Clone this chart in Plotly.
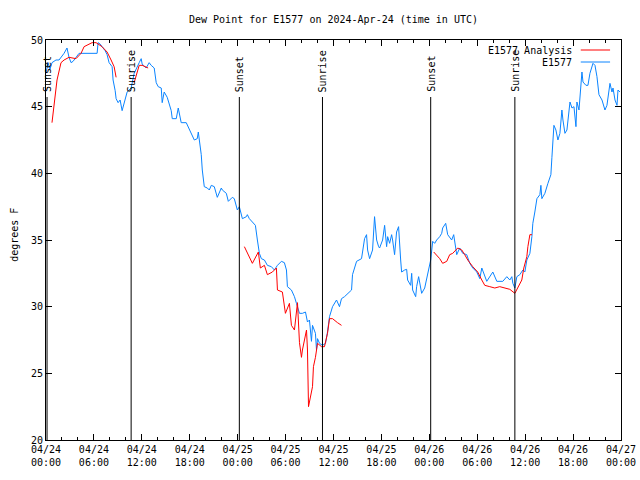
import pandas as pd
import plotly.graph_objects as go

START = pd.Timestamp("2024-04-24 00:00")

# E1577 observations: hours since 2024-04-24 00:00 UTC, dew point (F)
blue_hours = [0.0, 0.25, 0.5, 0.75, 1.25, 1.63, 2.26, 2.63, 2.88, 3.14, 3.39, 3.76, 4.14, 6.40, 6.52, 6.77,
              7.02, 7.40, 7.65, 7.90, 8.28, 8.40, 8.66, 8.78, 9.03, 9.28, 9.53, 9.91, 10.16, 10.66, 11.04,
              11.67, 11.92, 12.04, 12.54, 12.92, 13.17, 13.55, 13.80, 14.05, 14.43, 14.55, 14.80, 15.18,
              15.68, 15.81, 16.31, 16.56, 16.93, 17.56, 18.19, 18.57, 18.94, 19.07, 19.20, 19.44, 19.57,
              19.82, 20.20, 20.45, 20.70, 21.07, 21.45, 21.95, 22.08, 22.58, 22.83, 23.33, 23.58, 23.83,
              23.96, 24.21, 24.46, 24.59, 25.09, 25.21, 25.46, 25.84, 26.22, 26.47, 26.72, 26.97, 27.35,
              27.72, 28.22, 28.60, 28.98, 29.48, 29.85, 30.11, 30.23, 30.73, 31.11, 31.36, 31.49, 31.74,
              32.11, 32.49, 32.74, 32.99, 33.24, 33.37, 33.74, 33.87, 34.00, 34.25, 34.62, 35.00, 35.25,
              35.50, 35.88, 36.38, 36.75, 37.00, 37.38, 37.76, 38.26, 38.38, 38.89, 39.51, 39.89, 40.14,
              40.27, 40.52, 40.89, 41.14, 41.40, 41.65, 41.77, 42.15, 42.40, 42.65, 42.78, 43.03, 43.28,
              43.40, 43.65, 43.90, 44.15, 44.41, 44.53, 44.91, 45.16, 45.28, 45.66, 45.79, 45.91, 46.29,
              46.41, 46.66, 47.04, 47.42, 47.79, 48.17, 48.42, 48.67, 48.92, 49.30, 49.55, 49.67, 50.05,
              50.30, 50.80, 51.05, 51.43, 51.81, 52.18, 52.68, 53.06, 53.44, 53.94, 54.32, 54.57, 54.94,
              55.19, 55.95, 56.45, 57.20, 57.70, 58.08, 58.33, 58.46, 58.71, 58.96, 59.33, 59.71, 59.96,
              60.21, 60.59, 60.84, 60.96, 61.21, 61.47, 61.84, 61.97, 62.09, 62.47, 62.85, 63.22, 63.35,
              63.47, 63.60, 63.85, 64.10, 64.35, 64.60, 64.73, 64.98, 65.23, 65.35, 65.61, 65.86, 66.11,
              66.36, 66.48, 66.74, 67.11, 67.24, 67.61, 67.86, 68.11, 68.49, 68.74, 68.99, 69.24, 69.62,
              69.99, 70.24, 70.62, 70.87, 71.00, 71.25, 71.50, 71.62, 71.87]
blue_vals = [47.5, 48.3, 47.8, 48.3, 48.5, 48.5, 49.0, 49.4, 48.7, 48.3, 48.4, 48.7, 49.0, 49.0, 49.8, 49.7,
             49.5, 49.2, 48.9, 48.3, 48.0, 47.0, 46.2, 45.6, 45.3, 45.5, 44.7, 45.5, 46.1, 46.4, 47.5,
             48.3, 48.6, 48.2, 47.9, 48.3, 48.1, 47.9, 46.8, 46.5, 46.4, 45.3, 46.1, 45.7,
             44.7, 44.1, 44.1, 44.9, 43.8, 43.8, 43.0, 42.5, 42.6, 43.1, 42.5, 41.4, 40.25,
             39.0, 38.9, 38.75, 39.1, 39.0, 38.2, 38.9, 38.75, 38.5, 37.9, 38.2, 38.1, 37.5,
             37.25, 37.5, 37.0, 36.6, 36.75, 36.9, 36.6, 36.35, 36.1, 35.0, 34.0, 33.6, 33.5,
             33.1, 33.0, 32.75, 33.1, 33.4, 33.3, 32.75, 31.5, 31.25, 30.75, 30.25, 30.0, 29.5,
             29.5, 29.6, 28.85, 29.0, 27.4, 28.6, 28.0, 26.75, 27.6, 27.25, 27.1, 27.25, 28.1,
             29.25, 30.0, 30.5, 30.0, 30.6, 30.75, 31.0, 31.25, 32.4, 33.4, 33.6, 35.1, 35.4,
             34.25, 33.6, 34.25, 36.75, 35.0, 34.5, 34.4, 35.0, 36.1, 34.5, 35.25, 34.75, 35.4,
             35.0, 33.9, 35.6, 36.0, 33.5, 32.6, 32.75, 32.8, 32.0, 31.6, 32.5, 31.25, 30.75,
             31.5, 32.25, 31.0, 31.4, 32.5, 33.5, 34.9, 34.75, 35.0, 35.25, 35.5, 35.9, 36.25,
             35.4, 35.0, 35.4, 33.9, 34.4, 34.0, 33.9, 33.25, 32.9, 32.6, 32.1, 32.9, 32.25,
             31.9, 32.6, 31.9, 31.9, 32.25, 32.0, 32.25, 31.75, 31.4, 32.25, 32.4, 32.75, 32.6,
             33.5, 34.0, 35.25, 36.25, 37.1, 38.1, 38.4, 39.1, 38.1, 38.5, 39.25, 39.9, 41.2,
             43.0, 43.6, 43.25, 42.5, 43.0, 44.75, 44.0, 43.0, 43.25, 44.1, 45.35, 44.9, 45.0,
             43.5, 45.35, 44.75, 47.6, 46.85, 46.6, 46.6, 47.5, 48.25, 48.1, 47.25, 45.9, 45.5,
             44.75, 45.1, 46.75, 46.1, 46.4, 45.5, 45.1, 46.25, 46.1]

# E1577 Analysis segments
red_hours_a = [0.75, 1.13, 1.38, 1.88, 2.26, 2.88, 3.76, 4.39, 4.77, 5.77, 6.27, 7.02, 7.65, 8.15, 8.53, 8.78]
red_vals_a = [43.8, 45.5, 47.0, 48.3, 48.5, 48.7, 48.6, 49.0, 49.5, 49.8, 49.8, 49.5, 49.1, 48.5, 48.0, 47.2]
red_hours_a2 = [11.04, 11.67, 12.04, 12.54, 12.79]
red_vals_a2 = [46.8, 48.1, 48.1, 48.0, 47.9]
red_hours_b = [24.84, 25.84, 26.59, 26.84, 27.35, 27.72, 28.35, 28.85, 28.98, 29.60, 29.98, 30.48, 30.73,
               31.11, 31.49, 31.74, 31.99, 32.11, 32.62, 32.74, 32.87, 33.12, 33.37, 33.49, 33.74, 34.00,
               34.50, 34.87, 35.25, 35.50, 35.88, 36.50, 37.00]
red_vals_b = [34.5, 33.25, 34.1, 32.9, 33.1, 32.4, 32.6, 32.9, 31.25, 31.1, 29.5, 30.25, 28.6,
              28.25, 30.3, 27.3, 26.2, 26.75, 28.25, 26.75, 22.5, 23.4, 24.0, 25.5, 26.2, 27.25,
              27.0, 27.0, 28.0, 29.1, 29.1, 28.8, 28.6]
red_hours_c = [48.55, 49.30, 49.67, 50.18, 50.55, 50.93, 51.56, 52.06, 52.43, 52.81, 53.44, 54.06, 54.57,
               54.94, 55.57, 56.20, 56.82, 57.45, 58.08, 58.71, 59.08, 59.58, 59.83, 60.21, 60.34, 60.59, 60.84]
red_vals_c = [34.1, 33.6, 33.25, 33.4, 33.9, 34.0, 34.4, 34.25, 33.9, 33.5, 33.0, 32.6, 32.0,
              31.6, 31.5, 31.4, 31.5, 31.4, 31.3, 31.0, 31.4, 32.0, 32.9, 33.75, 34.5, 35.4, 35.4]

sun_hours = [0.13, 10.66, 24.21, 34.62, 48.17, 58.71]
sun_labels = ["Sunset", "Sunrise", "Sunset", "Sunrise", "Sunset", "Sunrise"]

tick_hours = list(range(0, 73, 6))
y_ticks = [20, 25, 30, 35, 40, 45, 50]


def to_time(hours):
    return [START + pd.Timedelta(hours=h) for h in hours]


red_x, red_y = [], []
for hs, vs in [(red_hours_a, red_vals_a), (red_hours_a2, red_vals_a2), (red_hours_b, red_vals_b),
               (red_hours_c, red_vals_c)]:
    red_x += to_time(hs) + [None]
    red_y += vs + [None]

FONT = "DejaVu Sans Mono"
BLUE = "#0a84ff"
RED = "#ff0000"

fig = go.Figure()
fig.add_trace(go.Scatter(x=to_time(blue_hours), y=blue_vals, mode="lines",
                         line=dict(color=BLUE, width=1), name="E1577", showlegend=False))
fig.add_trace(go.Scatter(x=red_x, y=red_y, mode="lines", connectgaps=False,
                         line=dict(color=RED, width=1), name="E1577 Analysis", showlegend=False))

# sunrise / sunset lines and labels
for h, lab in zip(sun_hours, sun_labels):
    t = START + pd.Timedelta(hours=h)
    fig.add_shape(type="line", xref="x", yref="paper", x0=t, x1=t, y0=0, y1=0.8575,
                  line=dict(color="black", width=1))
    fig.add_annotation(x=t, y=0.865, xref="x", yref="paper", text=lab, textangle=-90,
                       showarrow=False, xanchor="center", yanchor="bottom",
                       font=dict(family=FONT, size=10, color="black"))

# legend (gnuplot style: text then line sample)
for ypos, lab, col in [(0.975, "E1577 Analysis", RED), (0.945, "E1577", BLUE)]:
    fig.add_annotation(x=0.919, y=ypos, xref="paper", yref="paper", text=lab, showarrow=False,
                       xanchor="right", yanchor="middle", font=dict(family=FONT, size=10, color="black"))
    fig.add_shape(type="line", xref="paper", yref="paper", x0=0.930, x1=0.981, y0=ypos, y1=ypos,
                  line=dict(color=col, width=1))

# y-axis label
fig.add_annotation(x=-0.056, y=0.5125, xref="paper", yref="paper", text="degrees F", textangle=-90,
                   showarrow=False, xanchor="center", yanchor="middle",
                   font=dict(family=FONT, size=10, color="black"))

tick_times = to_time(tick_hours)
tick_text = [t.strftime("%m/%d") + "<br>" + t.strftime("%H:%M") for t in tick_times]

fig.update_layout(
    width=640, height=480,
    margin=dict(l=46, r=19, t=40, b=40, autoexpand=False),
    paper_bgcolor="white", plot_bgcolor="white",
    font=dict(family=FONT, size=10, color="black"),
    title=dict(text="Dew Point for E1577 on 2024-Apr-24 (time in UTC)", x=0.5, xref="paper",
               y=1 - 19 / 480, yref="container", xanchor="center", yanchor="middle",
               font=dict(family=FONT, size=10, color="black")),
    showlegend=False,
)
fig.update_xaxes(range=[START, START + pd.Timedelta(hours=72)], tickvals=tick_times, ticktext=tick_text,
                 showgrid=False, zeroline=False, showline=True, linecolor="black", linewidth=1,
                 mirror="allticks", ticks="inside", ticklen=6, tickcolor="black",
                 minor=dict(dtick=2 * 3600 * 1000, tick0=START, ticks="inside", ticklen=3,
                            tickcolor="black", showgrid=False),
                 tickfont=dict(family=FONT, size=10, color="black"))
fig.update_yaxes(range=[20, 50], tickvals=y_ticks, showgrid=False, zeroline=False, showline=True,
                 linecolor="black", linewidth=1, mirror="allticks", ticks="inside", ticklen=6,
                 tickcolor="black", tickfont=dict(family=FONT, size=10, color="black"))

fig.write_html("out.html", config={"displayModeBar": False},
               post_script="document.body.style.margin='0';document.body.style.overflow='hidden';")
